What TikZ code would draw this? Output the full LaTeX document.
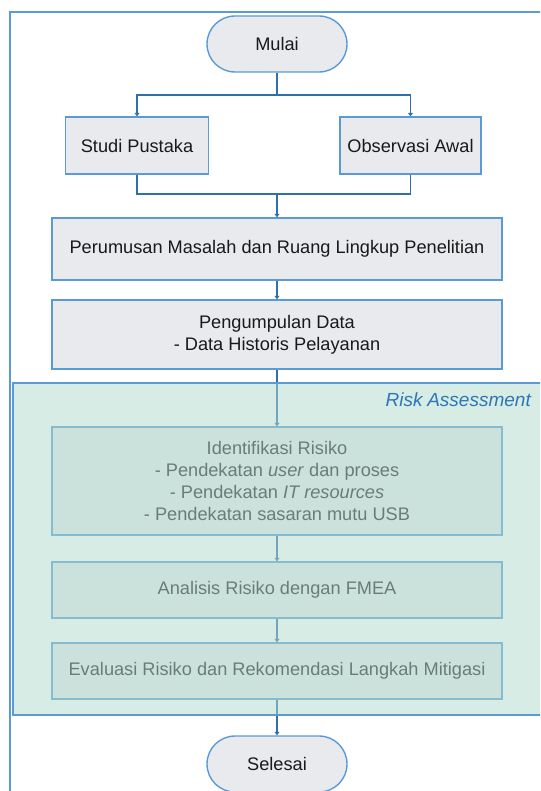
\documentclass[tikz,border=0pt]{standalone}
\usepackage{fontspec}
\setmainfont{Liberation Sans}
\usepackage{tikz}
\usetikzlibrary{arrows.meta,positioning}
\definecolor{framblue}{HTML}{5B9BD5}
\definecolor{lineblue}{HTML}{2E6FAD}
\definecolor{boxgrey}{HTML}{E9EAEE}
\definecolor{riskgreen}{HTML}{B0DACB}
\definecolor{labelblue}{HTML}{2E75B6}
\tikzstyle{process}=[rectangle,draw=framblue,line width=1.4pt,fill=boxgrey,text=black!90,inner sep=0pt,align=center,minimum height=56pt,minimum width=450pt,font=\fontsize{18.2}{22}\selectfont]
\tikzstyle{terminal}=[process,rounded corners=28pt,minimum width=140pt]
\tikzstyle{flow}=[draw=lineblue,line width=1.1pt,-{Triangle[length=3.5pt,width=5pt]}]
\tikzstyle{riskarea}=[rectangle,draw=framblue,line width=1.4pt,fill=riskgreen,fill opacity=0.52,draw opacity=1,minimum width=532pt,minimum height=332pt]
\tikzstyle{riskname}=[text=labelblue,font=\fontsize{19}{22}\selectfont\itshape,anchor=east,inner sep=0pt]

\begin{document}
\begin{tikzpicture}[x=1pt,y=-1pt]
\useasboundingbox (0,0) rectangle (540,791);
\clip (0,0) rectangle (540,791);
        \draw [framblue,line width=2pt] (9.5,800) -- (9.5,12.5) -- (560,12.5);
        \node[terminal] (mulai) at (277,44) {Mulai};
        \node[process,minimum width=143pt,minimum height=57pt] (studi) at (137,145.5) {Studi Pustaka};
        \node[process,minimum width=141pt,minimum height=57pt] (observasi) at (410.5,145.5) {Observasi Awal};
        \node[process,minimum height=62pt] (perumusan) at (277,249) {Perumusan Masalah dan Ruang Lingkup Penelitian};
        \node[process,minimum height=69pt] (pengumpulan) at (277,334.5) {Pengumpulan Data\\- Data Historis Pelayanan};
        \node[process,minimum height=108pt] (identifikasi) at (277,481) {Identifikasi Risiko\\- Pendekatan \textit{user} dan proses\\- Pendekatan \textit{IT resources}\\- Pendekatan sasaran mutu USB};
        \node[process] (analisis) at (277,590) {Analisis Risiko dengan FMEA};
        \node[process] (evaluasi) at (277,671) {Evaluasi Risiko dan Rekomendasi Langkah Mitigasi};
        \node[terminal] (selesai) at (277,764) {Selesai};
        \coordinate (split) at (277,95);
        \coordinate (merge) at (277,194);
        \foreach \to in {studi, observasi}
          \draw [flow] (mulai) -- (split) -| (\to);
        \foreach \from in {studi, observasi}
          \draw [lineblue,line width=1.1pt] (\from) |- (merge);
        \draw [flow] (merge) -- (perumusan);
        \foreach \a/\b in {perumusan/pengumpulan, pengumpulan/identifikasi, identifikasi/analisis, analisis/evaluasi, evaluasi/selesai}
          \draw [flow] (\a) -- (\b);
        % risk assessment area laid over the steps
        \node[riskarea] (risk) at (279,549) {};
        \node[riskname] (risklabel) at (531,400) {Risk\hspace{0.25em}Assessment};
      \end{tikzpicture}
\end{document}
